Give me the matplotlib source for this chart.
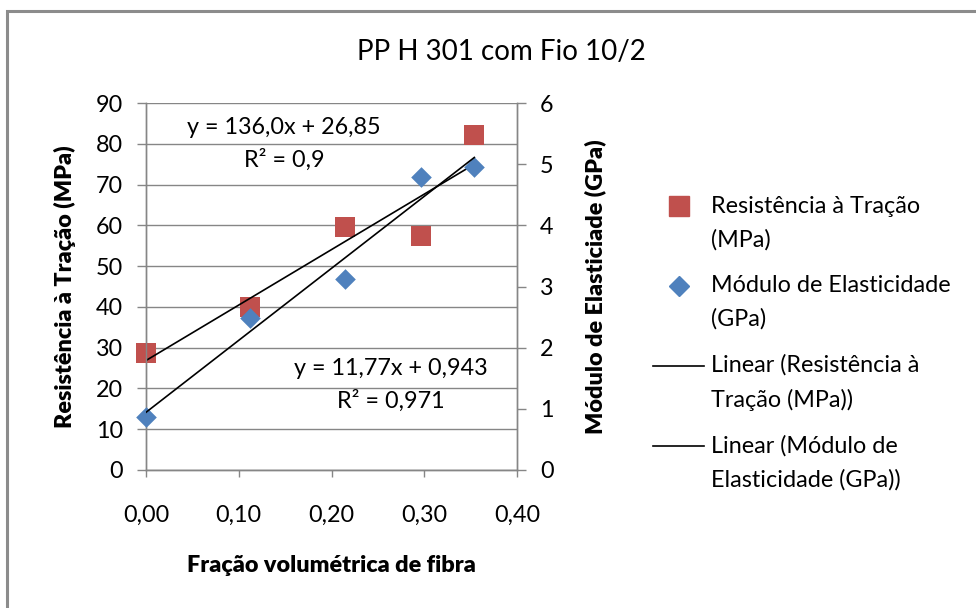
import matplotlib
matplotlib.use("Agg")
import matplotlib.pyplot as plt
from matplotlib.lines import Line2D
from matplotlib.patches import Rectangle
from matplotlib.legend_handler import HandlerLine2D
from matplotlib.transforms import Affine2D
from matplotlib.ticker import FuncFormatter, MultipleLocator

plt.rcParams["font.family"] = ["Lato", "DejaVu Sans"]

# dados
fracao = [0.0, 0.112, 0.215, 0.297, 0.354]
resistencia = [28.7, 40.0, 59.7, 57.5, 82.2]      # MPa
modulo = [0.87, 2.49, 3.13, 4.79, 4.96]           # GPa

# linhas de tendencia (coeficientes do rotulo)
coef_resist = (136.0, 26.85)
coef_modulo = (11.77, 0.943)
rotulo_resist = "y = 136,0x + 26,85\nR² = 0,9"
rotulo_modulo = "y = 11,77x + 0,943\nR² = 0,971"

titulo = "PP H 301 com Fio 10/2"
nomes = ["Resistência à Tração\n(MPa)",
         "Módulo de Elasticidade\n(GPa)",
         "Linear (Resistência à\nTração (MPa))",
         "Linear (Módulo de\nElasticidade (GPa))"]

vermelho = "#C0504D"
azul = "#4F81BD"
cinza = "#868686"
fs = 16.8


class HandlerTopo(HandlerLine2D):
    # alinha o simbolo da legenda com a primeira linha do texto
    def create_artists(self, legend, orig_handle, xdescent, ydescent, width, height, fontsize, trans):
        trans = trans + Affine2D().translate(0, 17)
        return super().create_artists(legend, orig_handle, xdescent, ydescent,
                                      width, height, fontsize, trans)


W, H = 976, 608
fig = plt.figure(figsize=(W / 100, H / 100), dpi=100)
ax = fig.add_axes([146 / W, 1 - 470 / H, (517 - 146) / W, (470 - 103) / H])
ax2 = ax.twinx()

# moldura do grafico
fig.patches.append(Rectangle((7 / W, -0.1), 1.2, 1.1 - 11 / H, transform=fig.transFigure,
                             fill=False, edgecolor="#8c8c8c", linewidth=2.2))

ax.set_xlim(0, 0.40)
ax.set_ylim(0, 90)
ax2.set_ylim(0, 6)
ax.xaxis.set_major_locator(MultipleLocator(0.1))
ax.yaxis.set_major_locator(MultipleLocator(10))
ax2.yaxis.set_major_locator(MultipleLocator(1))
ax.xaxis.set_major_formatter(FuncFormatter(lambda v, p: f"{v:.2f}".replace(".", ",")))

ax.grid(axis="y", color=cinza, linewidth=1.0)
ax.set_axisbelow(True)
for a in (ax, ax2):
    a.spines["top"].set_visible(False)
    for s in ("left", "right", "bottom"):
        a.spines[s].set_color(cinza)
        a.spines[s].set_linewidth(1.0)
    a.tick_params(length=6.5, width=1.0, color=cinza, labelsize=fs, pad=8)
ax.tick_params(axis="x", length=5, pad=20)
ax.tick_params(axis="y", pad=10)
ax2.tick_params(axis="y", pad=10)

ax.scatter(fracao, resistencia, marker="s", s=15 ** 2, color=vermelho, zorder=3,
           linewidths=0, clip_on=False)
ax2.scatter(fracao, modulo, marker="D", s=10.5 ** 2, color=azul, zorder=3,
            linewidths=0, clip_on=False)

xs = [min(fracao), max(fracao)]
ax.plot(xs, [coef_resist[0] * x + coef_resist[1] for x in xs], color="black", linewidth=1.2, zorder=4)
ax2.plot(xs, [coef_modulo[0] * x + coef_modulo[1] for x in xs], color="black", linewidth=1.2, zorder=4)

ax.text(0.149, 80, rotulo_resist, ha="center", va="center", fontsize=fs, linespacing=1.55)
ax.text(0.264, 20.9, rotulo_modulo, ha="center", va="center", fontsize=fs, linespacing=1.55)

fig.text(501 / W, 1 - 52 / H, titulo, ha="center", va="center", fontsize=20)
ax.set_xlabel("Fração volumétrica de fibra", fontsize=fs, fontweight="heavy", labelpad=21)
ax.set_ylabel("Resistência à Tração (MPa)", fontsize=fs, fontweight="heavy", labelpad=14)
ax2.set_ylabel("Módulo de Elasticiade (GPa)", fontsize=fs, fontweight="heavy", labelpad=22)

handles = [
    Line2D([], [], marker="s", linestyle="none", markersize=14, color=vermelho),
    Line2D([], [], marker="D", linestyle="none", markersize=10.5, color=azul),
    Line2D([], [], color="black", linewidth=1.2),
    Line2D([], [], color="black", linewidth=1.2),
]
leg = fig.legend(handles, nomes, loc="center left", bbox_to_anchor=(653 / W, 1 - 343 / H),
                 frameon=False, fontsize=fs, handlelength=2.2, handletextpad=0.3,
                 labelspacing=1.05, borderaxespad=0, borderpad=0,
                 handler_map={Line2D: HandlerTopo()})
for t in leg.get_texts():
    t.set_linespacing(1.7)

fig.savefig("out.png", dpi=100)
